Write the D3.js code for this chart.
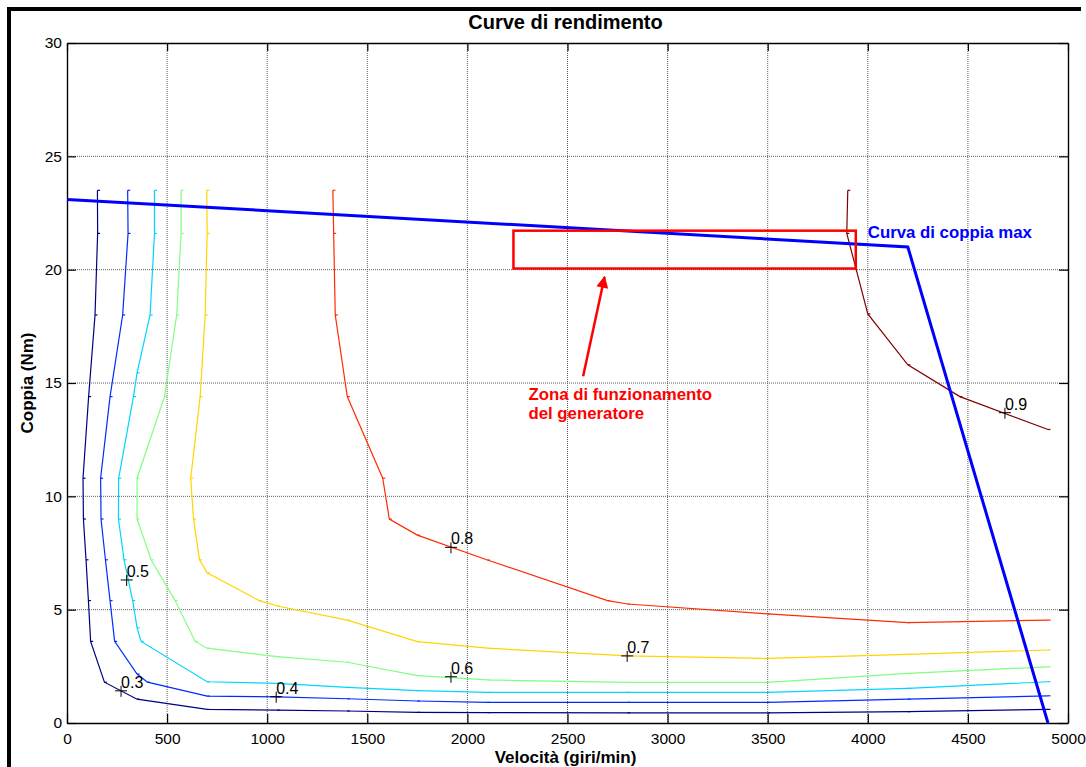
<!DOCTYPE html>
<html>
<head>
<meta charset="utf-8">
<script src="https://cdn.jsdelivr.net/npm/d3@7"></script>
<style>
  body { margin: 0; background: #fff; }
  text { font-family: Arial, "Liberation Sans", sans-serif; }
</style>
</head>
<body>
<div class="chart"></div>
<script>
// tick values
var xTicks = [0, 500, 1000, 1500, 2000, 2500, 3000, 3500, 4000, 4500, 5000];
var yTicks = [0, 5, 10, 15, 20, 25, 30];

// efficiency levels and the contour lines: [speed, torque]
var levels = [0.3, 0.4, 0.5, 0.6, 0.7, 0.8, 0.9];

var eff30 = [[152, 23.5], [153, 21.6], [140, 18], [108, 14.4], [80, 10.8], [82, 9], [95, 7.2], [107, 5.4],
  [118, 3.6], [187, 1.8], [350, 1.05], [700, 0.6], [1050, 0.57], [1400, 0.53], [1750, 0.47], [2100, 0.46],
  [2800, 0.45], [3500, 0.45], [4200, 0.5], [4900, 0.6]];
var eff40 = [[303, 23.5], [305, 21.6], [278, 18], [215, 14.4], [168, 10.8], [170, 9], [192, 7.2], [215, 5.4],
  [238, 3.6], [350, 2.16], [402, 1.8], [700, 1.19], [1050, 1.15], [1400, 1.07], [1750, 0.97], [2100, 0.91],
  [2800, 0.91], [3500, 0.91], [4200, 1.05], [4900, 1.2]];
var eff50 = [[437, 23.5], [437, 21.6], [415, 18], [350, 15.45], [332, 14.4], [258, 10.8], [257, 9], [285, 7.2],
  [328, 5.4], [350, 4.2], [370, 3.6], [700, 1.82], [1050, 1.75], [1400, 1.57], [1750, 1.43], [2100, 1.35],
  [2800, 1.35], [3500, 1.35], [4200, 1.53], [4900, 1.82]];
var eff60 = [[570, 23.5], [570, 21.6], [548, 18], [487, 14.4], [350, 10.8], [350, 9], [420, 7.2], [540, 5.4],
  [640, 3.6], [700, 3.3], [1050, 2.93], [1400, 2.68], [1750, 2.09], [2100, 1.9], [2800, 1.79], [3500, 1.79],
  [4200, 2.19], [4900, 2.48]];
var eff70 = [[698, 23.5], [700, 21.6], [690, 18], [665, 14.4], [618, 10.8], [632, 9], [662, 7.2], [700, 6.63],
  [960, 5.4], [1050, 5.16], [1400, 4.54], [1750, 3.59], [2100, 3.3], [2800, 2.96], [3500, 2.85], [4200, 3.03],
  [4900, 3.22]];
var eff80 = [[1328, 23.5], [1332, 21.6], [1340, 18], [1400, 14.4], [1577, 10.8], [1610, 9], [1750, 8.29],
  [2100, 7.19], [2700, 5.4], [2800, 5.25], [3500, 4.81], [4200, 4.43], [4900, 4.54]];
var eff90 = [[3900, 23.5], [3895, 21.6], [4000, 18.05], [4200, 15.8], [4460, 14.4], [4900, 12.95]];

// where each level label sits
var labelPoints = [[270, 1.42], [1045, 1.16], [298, 6.31], [1918, 2.04], [2798, 2.96], [1918, 7.75], [4685, 13.69]];

// max torque curve
var maxTorque = [[0, 23.1], [1000, 22.6], [4200, 21.0], [4900, 0]];

// generator operating zone and the arrow pointing at it
var zoneSpeed = [2230, 3940];
var zoneTorque = [20.05, 21.72];
var arrowFrom = [2578, 15.3];
var arrowTo = [2685, 19.68];

var contours = [eff30, eff40, eff50, eff60, eff70, eff80, eff90];
var levelColors = ["#000080", "#002bff", "#00d5ff", "#80ff80", "#ffd500", "#ff2b00", "#800000"];

var svgWidth = 1086;
var svgHeight = 767;

var margin = { top: 43, right: 18, bottom: 44, left: 67 };
var width = 1001;
var height = svgHeight - margin.top - margin.bottom;

var svg = d3.select(".chart")
  .append("svg")
  .attr("width", svgWidth)
  .attr("height", svgHeight);

// outer frame (only left and top edges are visible in the shot)
svg.append("line").attr("x1", 9).attr("x2", 9).attr("y1", 7).attr("y2", svgHeight)
  .attr("stroke", "#000").attr("stroke-width", 4);
svg.append("line").attr("x1", 7).attr("x2", 1081).attr("y1", 9).attr("y2", 9)
  .attr("stroke", "#000").attr("stroke-width", 4);

var chartGroup = svg.append("g")
  .attr("transform", `translate(${margin.left}, ${margin.top})`);

var xScale = d3.scaleLinear().domain([0, 5000]).range([0, width]);
var yScale = d3.scaleLinear().domain([0, 30]).range([height, 0]);

// dotted grid
chartGroup.append("g")
  .selectAll("line.vgrid")
  .data(xTicks.slice(1, -1))
  .enter()
  .append("line")
  .attr("x1", d => xScale(d)).attr("x2", d => xScale(d))
  .attr("y1", 0).attr("y2", height)
  .attr("stroke", "#5f5f5f").attr("stroke-width", 1).attr("stroke-dasharray", "1,1");

chartGroup.append("g")
  .selectAll("line.hgrid")
  .data(yTicks.slice(1, -1))
  .enter()
  .append("line")
  .attr("x1", 0).attr("x2", width)
  .attr("y1", d => yScale(d)).attr("y2", d => yScale(d))
  .attr("stroke", "#5f5f5f").attr("stroke-width", 1).attr("stroke-dasharray", "1,1");

// axes, ticks pointing inward on all four sides
var fmt = d3.format("d");
var bottomAxis = d3.axisBottom(xScale).tickValues(xTicks).tickFormat(fmt)
  .tickSizeInner(-9).tickSizeOuter(0).tickPadding(10);
var leftAxis = d3.axisLeft(yScale).tickValues(yTicks).tickFormat(fmt)
  .tickSizeInner(-9).tickSizeOuter(0).tickPadding(5);
var topAxis = d3.axisTop(xScale).tickValues(xTicks).tickSizeInner(-8).tickSizeOuter(0).tickFormat("");
var rightAxis = d3.axisRight(yScale).tickValues(yTicks).tickSizeInner(-9).tickSizeOuter(0).tickFormat("");

chartGroup.append("g").attr("class", "axis")
  .attr("transform", `translate(0, ${height})`).call(bottomAxis);
chartGroup.append("g").attr("class", "axis").call(leftAxis);
chartGroup.append("g").attr("class", "axis").call(topAxis);
chartGroup.append("g").attr("class", "axis")
  .attr("transform", `translate(${width}, 0)`).call(rightAxis);

chartGroup.selectAll(".axis path").attr("stroke", "#000").attr("stroke-width", 1.4);
chartGroup.selectAll(".axis line").attr("stroke", "#000").attr("stroke-width", 1.2);
chartGroup.selectAll(".axis text")
  .attr("fill", "#000")
  .style("font-size", "15.5px")
  .style("font-family", "Arial, 'Liberation Sans', sans-serif");

// contour lines
var line = d3.line()
  .x(d => xScale(d[0]))
  .y(d => yScale(d[1]));

contours.forEach(function(pts, i) {
  chartGroup.append("path")
    .datum(pts)
    .attr("d", line)
    .attr("fill", "none")
    .attr("stroke", levelColors[i])
    .attr("stroke-width", 1.2);

  // small vertex marks
  chartGroup.append("g")
    .selectAll("line")
    .data(pts)
    .enter()
    .append("line")
    .attr("x1", d => xScale(d[0]))
    .attr("x2", d => xScale(d[0]) + 2.5)
    .attr("y1", d => yScale(d[1]))
    .attr("y2", d => yScale(d[1]))
    .attr("stroke", levelColors[i])
    .attr("stroke-width", 1.2);
});

// level labels: plus marker + value
var labels = chartGroup.append("g")
  .selectAll("g")
  .data(labelPoints)
  .enter()
  .append("g")
  .attr("transform", d => `translate(${xScale(d[0])}, ${yScale(d[1])})`);

labels.append("path")
  .attr("d", "M-6,0H6M0,-5V6")
  .attr("stroke", "#000")
  .attr("stroke-width", 1);

labels.append("text")
  .attr("x", 0)
  .attr("y", -3)
  .style("font-size", "16px")
  .attr("fill", "#000")
  .text((d, i) => levels[i].toFixed(1));

// max torque curve
chartGroup.append("path")
  .datum(maxTorque)
  .attr("d", line)
  .attr("fill", "none")
  .attr("stroke", "#0000ff")
  .attr("stroke-width", 3);

chartGroup.append("text")
  .attr("x", xScale(4000))
  .attr("y", yScale(21.4))
  .attr("fill", "#0000ff")
  .style("font-size", "16.8px")
  .style("font-weight", "bold")
  .text("Curva di coppia max");

// generator zone
chartGroup.append("rect")
  .attr("x", xScale(zoneSpeed[0]))
  .attr("y", yScale(zoneTorque[1]))
  .attr("width", xScale(zoneSpeed[1]) - xScale(zoneSpeed[0]))
  .attr("height", yScale(zoneTorque[0]) - yScale(zoneTorque[1]))
  .attr("fill", "none")
  .attr("stroke", "#ff0000")
  .attr("stroke-width", 2.5);

svg.append("defs").append("marker")
  .attr("id", "arrowhead")
  .attr("viewBox", "0 0 10 10")
  .attr("refX", 9).attr("refY", 5)
  .attr("markerUnits", "userSpaceOnUse")
  .attr("markerWidth", 20).attr("markerHeight", 12)
  .attr("orient", "auto")
  .append("path")
  .attr("d", "M0,0L10,5L0,10Z")
  .attr("fill", "#ff0000");

chartGroup.append("line")
  .attr("x1", xScale(arrowFrom[0])).attr("y1", yScale(arrowFrom[1]))
  .attr("x2", xScale(arrowTo[0])).attr("y2", yScale(arrowTo[1]))
  .attr("stroke", "#ff0000")
  .attr("stroke-width", 2.5)
  .attr("marker-end", "url(#arrowhead)");

var zoneText = chartGroup.append("text")
  .attr("x", xScale(2305))
  .attr("y", yScale(14.25))
  .attr("fill", "#ff0000")
  .style("font-size", "16.8px")
  .style("font-weight", "bold");
zoneText.append("tspan").attr("x", xScale(2305)).text("Zona di funzionamento");
zoneText.append("tspan").attr("x", xScale(2305)).attr("dy", 19).text("del generatore");

// title and axis labels
svg.append("text")
  .attr("x", margin.left + width / 2 - 2)
  .attr("y", 29)
  .attr("text-anchor", "middle")
  .style("font-size", "20px")
  .style("font-weight", "bold")
  .text("Curve di rendimento");

svg.append("text")
  .attr("x", margin.left + width / 2 - 2)
  .attr("y", 763)
  .attr("text-anchor", "middle")
  .style("font-size", "17px")
  .style("font-weight", "bold")
  .text("Velocità (giri/min)");

svg.append("text")
  .attr("transform", `translate(33, ${margin.top + height / 2}) rotate(-90)`)
  .attr("text-anchor", "middle")
  .style("font-size", "17px")
  .style("font-weight", "bold")
  .text("Coppia (Nm)");
</script>
</body>
</html>
